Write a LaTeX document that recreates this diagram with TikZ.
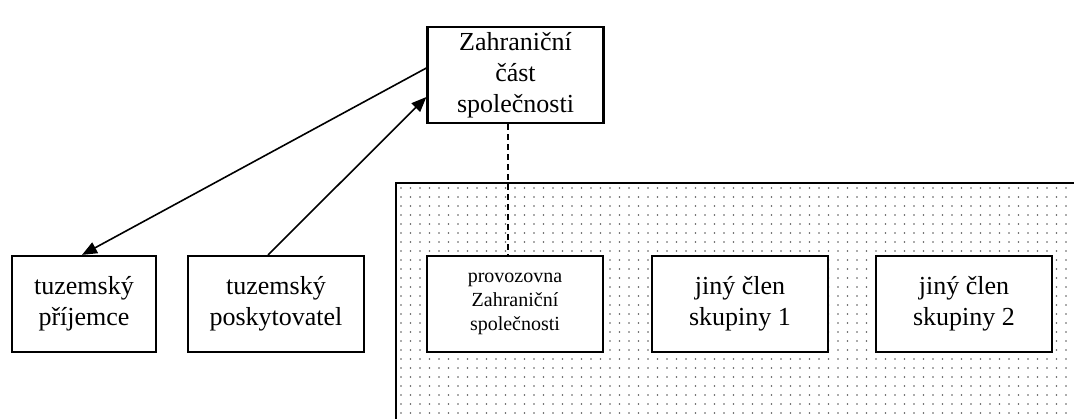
\documentclass[tikz,border=0pt]{standalone}
\usepackage{fontspec}
\setmainfont{Liberation Serif}
\usetikzlibrary{arrows.meta}
\begin{document}
\begin{tikzpicture}[x=1pt,y=-1pt,
  box/.style={draw=black,line width=2.2pt,fill=white,minimum width=176pt,minimum height=96pt,
    align=center,inner sep=0pt,font=\fontsize{26}{31}\selectfont},
  smallbox/.style={box,font=\fontsize{20}{24}\selectfont},
  link/.style={line width=1.6pt,-{Triangle[length=15pt,width=12pt]}},
  dot/.style={fill=black!65}]
\useasboundingbox (0,0) rectangle (1074,419);
% dotted group area
\begin{scope}
  \clip (396,183) rectangle (1074,419);
  \foreach \j in {0,...,26} {
    \foreach \i in {0,...,71} {
      \fill[dot] ({401+9.5*\i},{188+9*\j}) circle (0.85);
    }
  }
\end{scope}
\draw[line width=2.2pt] (396,419) -- (396,183) -- (1074,183);
% nodes
\node[box] (zc) at (515.5,75) {Zahraniční\\část\\společnosti};
\node[box,minimum width=144pt] (tp) at (84,304) {tuzemský\\příjemce};
\node[box] (tk) at (276,304) {tuzemský\\poskytovatel};
\node[smallbox] (pz) at (515,304) {provozovna\\Zahraniční\\společnosti};
\node[box] (j1) at (740,304) {jiný člen\\skupiny 1};
\node[box] (j2) at (964,304) {jiný člen\\skupiny 2};
% connectors
\draw[link] (zc.west |- 0,68) -- (tp.north -| 82,0);
\draw[link] (tk.north -| 268,0) -- (zc.west |- 0,97);
\draw[line width=1.6pt,dash pattern=on 6pt off 4pt] (zc.south -| 508,0) -- (pz.north -| 508,0);
\end{tikzpicture}
\end{document}
